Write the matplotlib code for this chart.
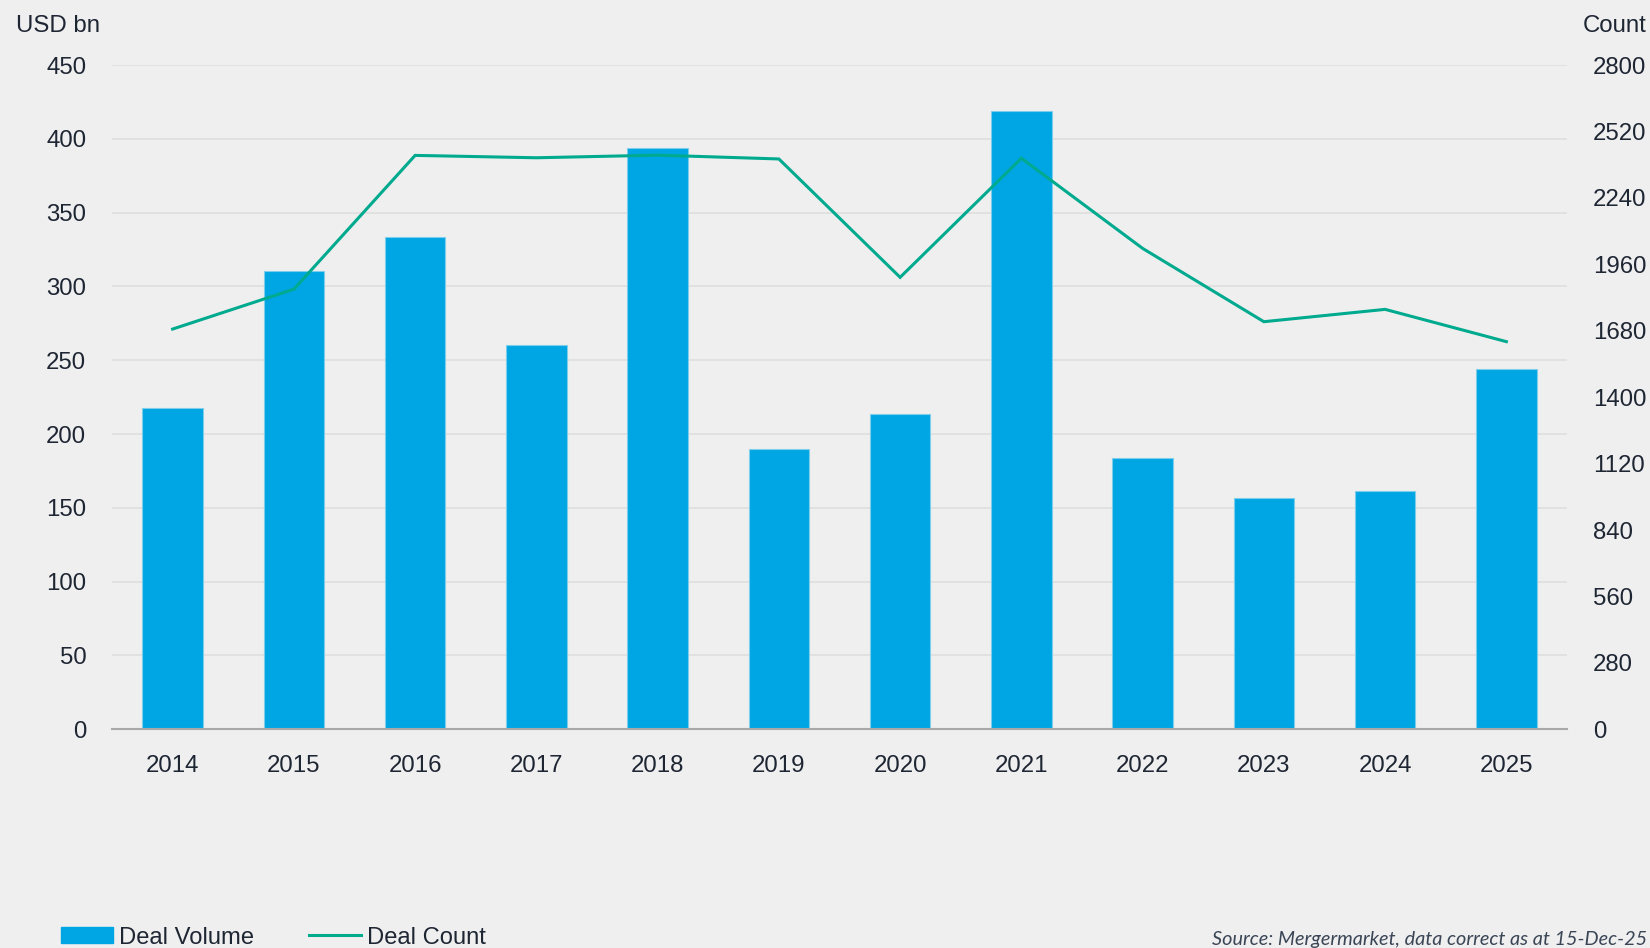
import matplotlib
matplotlib.use("Agg")
import matplotlib.pyplot as plt
from matplotlib.patches import Patch
from matplotlib.lines import Line2D

years = ["2014", "2015", "2016", "2017", "2018", "2019",
         "2020", "2021", "2022", "2023", "2024", "2025"]
deal_volume = [217.4, 310.3, 333.3, 260.1, 393.6, 189.9,
               213.6, 419.0, 184.0, 156.5, 161.4, 244.1]
deal_count = [1687, 1855, 2419, 2409, 2420, 2404,
              1905, 2407, 2027, 1718, 1770, 1634]
left_ticks = [0, 50, 100, 150, 200, 250, 300, 350, 400, 450]
right_ticks = [0, 280, 560, 840, 1120, 1400, 1680, 1960, 2240, 2520, 2800]

BG = "#EFEFEF"
BAR = "#00A6E3"
LINE = "#00AA8E"
TEXT = "#1E2533"
GRID = "#E0E0E0"
FONT = ["Liberation Sans", "DejaVu Sans"]

W, H = 1650, 948
fig = plt.figure(figsize=(W / 100, H / 100), dpi=100, facecolor=BG)
ax = fig.add_axes([112 / W, 1 - 729.3 / H, (1567 - 112) / W, (729.3 - 65) / H])
ax.set_facecolor(BG)

x = list(range(len(years)))
ax.bar(x, deal_volume, width=0.5, color=BAR, edgecolor="#7FCDEB",
       linewidth=0.8, zorder=2)
ax.set_xlim(-0.5, len(years) - 0.5)
ax.set_ylim(0, 450)
ax.set_yticks(left_ticks)
ax.set_xticks(x)
ax.set_xticklabels(years)
ax.grid(axis="y", color=GRID, linewidth=1.3, zorder=0)
ax.set_axisbelow(True)
for s in ["top", "left", "right"]:
    ax.spines[s].set_visible(False)
ax.spines["bottom"].set_color("#A8A8A8")
ax.spines["bottom"].set_linewidth(1.5)
ax.spines["bottom"].set_zorder(3)
ax.tick_params(axis="both", length=0, labelsize=17.3, labelcolor=TEXT)
ax.tick_params(axis="y", pad=18.5)
ax.tick_params(axis="x", pad=18.5)
for lab in ax.get_xticklabels() + ax.get_yticklabels():
    lab.set_family(FONT)

ax2 = ax.twinx()
ax2.plot(x, deal_count, color=LINE, linewidth=2.2, zorder=4,
         solid_joinstyle="miter")
ax2.set_ylim(0, 2800)
ax2.set_yticks(right_ticks)
for s in ["top", "left", "right", "bottom"]:
    ax2.spines[s].set_visible(False)
ax2.tick_params(axis="y", length=0, labelsize=17.3, labelcolor=TEXT, pad=18.5)
for lab in ax2.get_yticklabels():
    lab.set_family(FONT)

fig.text(16 / W, 1 - 32 / H, "USD bn", fontsize=17.3, color=TEXT,
         family=FONT, ha="left", va="baseline")
fig.text(1646 / W, 1 - 32 / H, "Count", fontsize=17.3, color=TEXT,
         family=FONT, ha="right", va="baseline")

handles = [Patch(facecolor=BAR, edgecolor=BAR),
           Line2D([0], [0], color=LINE, linewidth=2.2)]
leg = fig.legend(handles, ["Deal Volume", "Deal Count"], loc="center left",
                 bbox_to_anchor=(61 / W, 1 - 937.5 / H), ncol=2, frameon=False,
                 borderpad=0, borderaxespad=0, handlelength=2.2,
                 handleheight=0.63, handletextpad=0.25, columnspacing=2.29,
                 prop={"family": FONT, "size": 17.1})
for t in leg.get_texts():
    t.set_color(TEXT)

fig.text(1212 / W, 1 - 945 / H,
         "Source: Mergermarket, data correct as at 15-Dec-25",
         fontsize=14.3, color="#3A4556", style="italic",
         family=["Lato", "DejaVu Sans"], ha="left", va="baseline")

fig.savefig("out.png", dpi=100, facecolor=BG)
